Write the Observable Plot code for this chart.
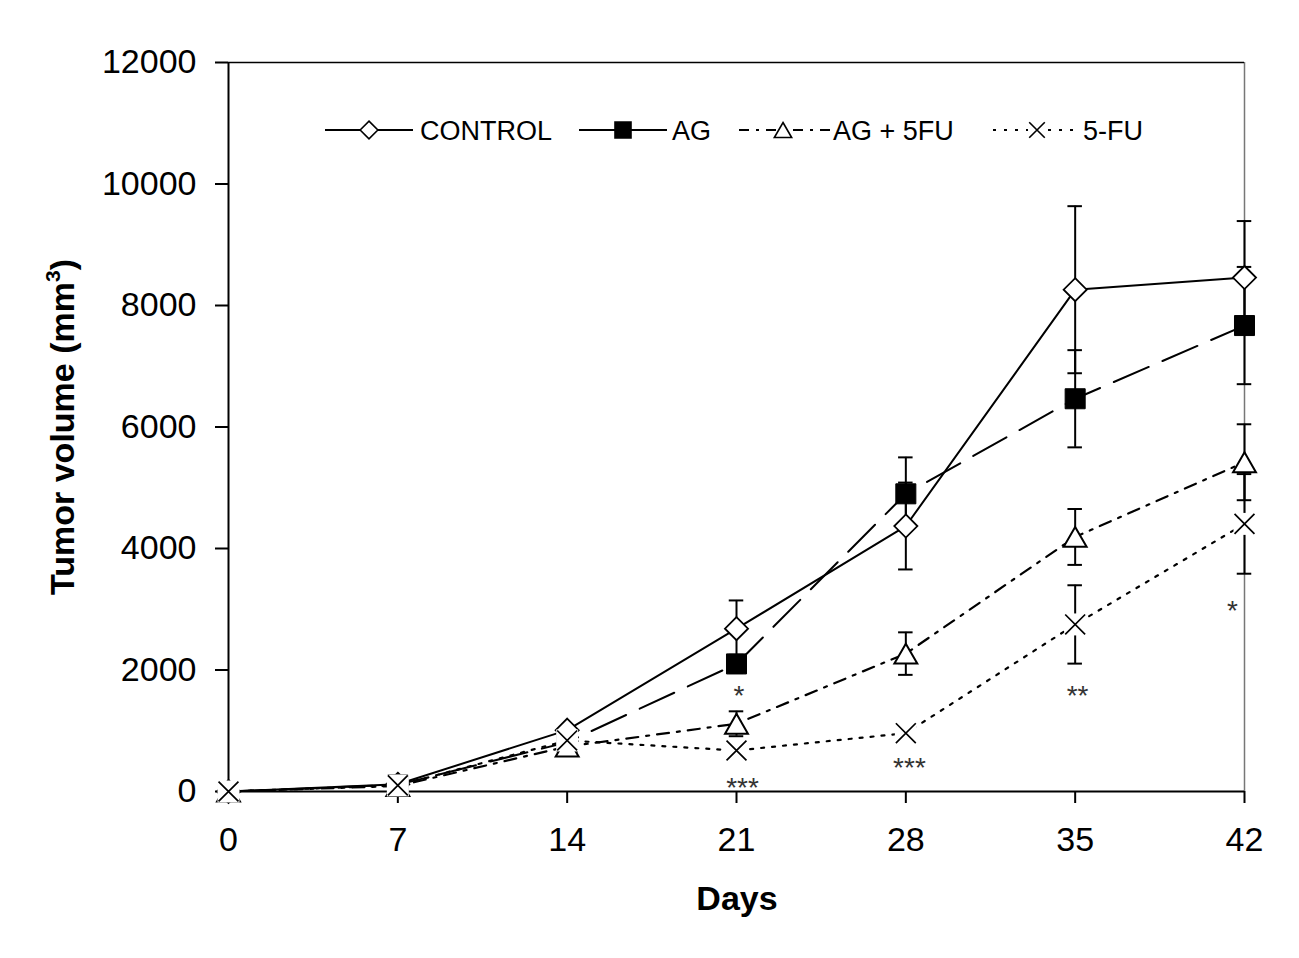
<!DOCTYPE html>
<html>
<head>
<meta charset="utf-8">
<script src="https://cdn.jsdelivr.net/npm/d3@7"></script>
<script src="https://cdn.jsdelivr.net/npm/@observablehq/plot@0.6"></script>
<style>
  html, body { margin: 0; padding: 0; background: #fff; overflow: hidden; }
  #chart { width: 1299px; height: 958px; }
</style>
</head>
<body>
<div id="chart"></div>
<script>
// ---- data ----
const days = [0, 7, 14, 21, 28, 35, 42];
const seriesNames = ["CONTROL", "AG", "AG + 5FU", "5-FU"];
const controlMean = [0, 120, 1010, 2680, 4370, 8260, 8460];
const controlSd   = [0, 0, 0, 465, 715, 1375, 930];
const agMean      = [0, 110, 810, 2100, 4900, 6465, 7670];
const agSd        = [0, 0, 0, 150, 600, 800, 965];
const ag5fuMean   = [0, 90, 740, 1115, 2270, 4190, 5420];
const ag5fuSd     = [0, 0, 0, 205, 350, 460, 625];
const fuMean      = [0, 100, 840, 675, 960, 2750, 4405];
const fuSd        = [0, 0, 0, 150, 150, 645, 820];
const xTicks = [0, 7, 14, 21, 28, 35, 42];
const yTicks = [0, 2000, 4000, 6000, 8000, 10000, 12000];
// significance marks: label, day position, value position
const starLabels = ["*", "***", "***", "**", "*"];
const starDays   = [21.1, 21.25, 28.15, 35.1, 41.5];
const starValues = [1695, 181, 510, 1695, 3095];

// ---- build tables ----
const means = [controlMean, agMean, ag5fuMean, fuMean];
const sds = [controlSd, agSd, ag5fuSd, fuSd];
const rows = [];
seriesNames.forEach((s, i) => days.forEach((d, j) => rows.push({series: s, day: d, value: means[i][j], sd: sds[i][j]})));
const errRows = rows.filter(r => r.sd > 0);
const stars = starLabels.map((t, i) => ({label: t, day: starDays[i], value: starValues[i]}));
const bySeries = s => rows.filter(r => r.series === s);

const capHalf = 0.3; // half cap width in days
const font = "'Liberation Sans', Arial, sans-serif";

const svg = Plot.plot({
  width: 1299,
  height: 958,
  marginLeft: 228,
  marginRight: 55,
  marginTop: 62,
  marginBottom: 167,
  style: {fontFamily: font, fontSize: "34px", color: "#000", background: "#fff", overflow: "visible"},
  x: {domain: [0, 42]},
  y: {domain: [0, 12000]},
  marks: [
    Plot.axisX({ticks: xTicks, tickSize: 12, tickPadding: 23, label: null, fontSize: 34, strokeWidth: 2, tickFormat: d3.format("d")}),
    Plot.axisY({ticks: yTicks, tickSize: 13, tickPadding: 19, label: null, fontSize: 34, strokeWidth: 2, tickFormat: d3.format("d")}),
    // frame
    Plot.ruleX([42], {stroke: "#777", strokeWidth: 1.5}),
    Plot.ruleY([12000], {stroke: "#000", strokeWidth: 1.5}),
    Plot.ruleX([0], {stroke: "#000", strokeWidth: 2}),
    Plot.ruleY([0], {stroke: "#000", strokeWidth: 2}),
    // error bars
    Plot.ruleX(errRows, {x: "day", y1: d => d.value - d.sd, y2: d => d.value + d.sd, stroke: "#000", strokeWidth: 2}),
    Plot.ruleY(errRows, {y: d => d.value + d.sd, x1: d => d.day - capHalf, x2: d => d.day + capHalf, stroke: "#000", strokeWidth: 2}),
    Plot.ruleY(errRows, {y: d => d.value - d.sd, x1: d => d.day - capHalf, x2: d => d.day + capHalf, stroke: "#000", strokeWidth: 2}),
    // lines
    Plot.line(bySeries("CONTROL"), {x: "day", y: "value", stroke: "#000", strokeWidth: 2}),
    Plot.line(bySeries("AG"), {x: "day", y: "value", stroke: "#000", strokeWidth: 2, strokeDasharray: "38,15"}),
    Plot.line(bySeries("AG + 5FU"), {x: "day", y: "value", stroke: "#000", strokeWidth: 2.2, strokeDasharray: "12,8,3,8"}),
    Plot.line(bySeries("5-FU"), {x: "day", y: "value", stroke: "#000", strokeWidth: 2.2, strokeDasharray: "3,8"}),
    // markers
    Plot.dot(bySeries("CONTROL"), {x: "day", y: "value", symbol: "diamond2", r: 10.4, fill: "#fff", stroke: "#000", strokeWidth: 1.8}),
    Plot.dot(bySeries("AG"), {x: "day", y: "value", symbol: "square", r: 11.3, fill: "#000", stroke: "#000", strokeWidth: 1}),
    Plot.dot(bySeries("AG + 5FU"), {x: "day", y: "value", symbol: "triangle", r: 8.5, dy: 3.3, fill: "#fff", stroke: "#000", strokeWidth: 2}),
    Plot.dot(bySeries("5-FU"), {x: "day", y: "value", symbol: "square", r: 12.4, fill: "#fff", stroke: "none"}),
    Plot.dot(bySeries("5-FU"), {x: "day", y: "value", symbol: "times", r: 9.1, stroke: "#000", strokeWidth: 1.7}),
    // significance
    Plot.text(stars, {x: "day", y: "value", text: "label", fontSize: 28, fill: "#333", dy: 8})
  ]
});

document.getElementById("chart").appendChild(svg);

// ---- titles & legend (layout, drawn over the plot) ----
const s = d3.select(svg);
s.append("text")
  .attr("transform", "translate(74,427) rotate(-90)")
  .attr("text-anchor", "middle")
  .attr("font-family", font).attr("font-size", 34).attr("font-weight", "bold").attr("fill", "#000")
  .call(t => {
    t.append("tspan").text("Tumor volume (mm");
    t.append("tspan").text("3").attr("font-size", 21).attr("dy", -14);
    t.append("tspan").text(")").attr("dy", 14);
  });
s.append("text")
  .attr("x", 737).attr("y", 910)
  .attr("text-anchor", "middle")
  .attr("font-family", font).attr("font-size", 34).attr("font-weight", "bold").attr("fill", "#000")
  .text("Days");

const legendItems = [
  {label: seriesNames[0], x1: 325, x2: 413, sx: 369, tx: 420, dash: null, type: d3.symbolDiamond2, size: 200, fill: "#fff"},
  {label: seriesNames[1], x1: 579, x2: 667, sx: 623, tx: 672, dash: null, type: d3.symbolSquare, size: 256, fill: "#000"},
  {label: seriesNames[2], x1: 739, x2: 830, sx: 783, tx: 833, dash: "10,7,3,7", type: d3.symbolTriangle, size: 130, fill: "#fff"},
  {label: seriesNames[3], x1: 993, x2: 1079, sx: 1037, tx: 1083, dash: "3,8", type: d3.symbolTimes, size: 160, fill: "none"}
];
const ly = 130;
const lg = s.append("g").attr("text-anchor", "start");
legendItems.forEach(it => {
  lg.append("line").attr("x1", it.x1).attr("x2", it.x2).attr("y1", ly).attr("y2", ly)
    .attr("stroke", "#000").attr("stroke-width", 2).attr("stroke-dasharray", it.dash);
  if (it.type === d3.symbolTimes) {
    lg.append("rect").attr("x", it.sx - 9).attr("y", ly - 9).attr("width", 18).attr("height", 18).attr("fill", "#fff");
  }
  lg.append("path").attr("d", d3.symbol().type(it.type).size(it.size)())
    .attr("transform", `translate(${it.sx},${ly + (it.type === d3.symbolTriangle ? 2.5 : 0)})`)
    .attr("fill", it.fill).attr("stroke", "#000").attr("stroke-width", 1.6);
  lg.append("text").attr("x", it.tx).attr("y", ly + 9.5).attr("text-anchor", "start")
    .attr("font-family", font).attr("font-size", 27).attr("fill", "#000").text(it.label);
});
</script>
</body>
</html>
